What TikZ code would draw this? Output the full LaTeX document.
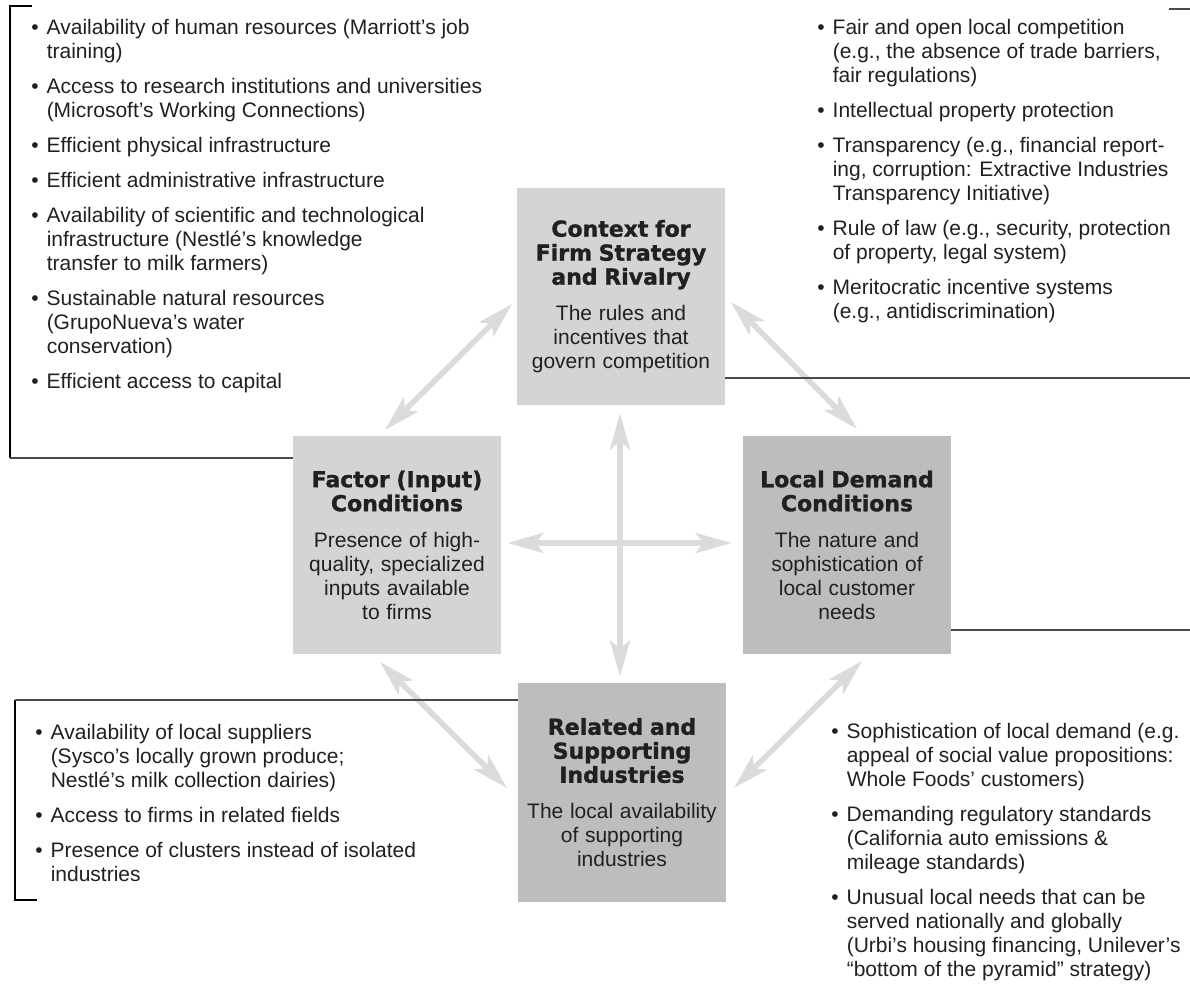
\documentclass[tikz,border=0pt]{standalone}
\usepackage{fontspec}
\setmainfont{Liberation Sans}
\newfontfamily\heavyfont{DejaVu Sans}[BoldFeatures={FakeBold=1.3}]
\usetikzlibrary{arrows.meta}
\definecolor{ink}{HTML}{231F20}
\definecolor{boxlight}{HTML}{D3D4D6}
\definecolor{boxdark}{HTML}{BCBDBF}
\definecolor{arrowgray}{HTML}{DADBDD}
\definecolor{rulegray}{HTML}{4A4A4A}
\newcommand\boxtitle{\heavyfont\bfseries\fontsize{11}{12}\selectfont}
\newcommand\boxbody{\rmfamily\mdseries\fontsize{10.5}{12}\selectfont}
\newcommand\bul{\textbullet}

\begin{document}
\begin{tikzpicture}[x=0.5pt,y=-0.5pt,
	box/.style={minimum width=104pt,minimum height=109pt,text width=100pt,align=center,text=ink,inner sep=0pt},
	list/.style={anchor=base west,inner sep=0pt,text=ink,font=\fontsize{10.5}{12}\selectfont},
	link/.style={draw=arrowgray,line width=2.8pt,{Stealth[length=18pt,width=10pt,inset=4pt]}-{Stealth[length=18pt,width=10pt,inset=4pt]}},
	bracket/.style={line width=1.4pt,black},
	rule/.style={line width=1pt,rulegray}]
		\useasboundingbox (0,0) rectangle (1190,989);
		\node [box,fill=boxlight,minimum height=108.5pt] (context) at (621,296.5) {\boxtitle Context for\\Firm Strategy\\and Rivalry\\[6pt]\boxbody The rules and\\incentives that\\govern competition};
		\node [box,fill=boxlight] (factor) at (397,545) {\boxtitle Factor (Input)\\Conditions\\[6pt]\boxbody Presence of high-\\quality, specialized\\inputs available\\to firms};
		\node [box,fill=boxdark] (demand) at (847,545) {\boxtitle Local Demand\\Conditions\\[6pt]\boxbody The nature and\\sophistication of\\local customer\\needs};
		\node [box,fill=boxdark,minimum height=109.5pt] (related) at (622,792.5) {\boxtitle Related and\\Supporting\\Industries\\[6pt]\boxbody The local availability\\of supporting\\industries};
		\coordinate (fcA) at (385,430);
		\coordinate (fcB) at (512,304);
		\coordinate (cdA) at (731,302);
		\coordinate (cdB) at (857,429);
		\coordinate (frA) at (380,662);
		\coordinate (frB) at (507,788);
		\coordinate (drA) at (862,661);
		\coordinate (drB) at (734,788);
		\draw [link] (fcA) -- (fcB);
		\draw [link] (cdA) -- (cdB);
		\draw [link] (frA) -- (frB);
		\draw [link] (drA) -- (drB);
		\draw [link,shorten <=3pt,shorten >=5.5pt] ([yshift=1pt]factor.east) -- ([yshift=1pt]demand.west);
		\draw [link,shorten <=4pt,shorten >=3pt] ([xshift=-0.5pt]context.south) -- ([xshift=-0.5pt]context.south |- related.north);
		\draw [bracket] (32,6) -- (10,6) -- (10,458);
		\draw [rule] (10,458) -- (factor.west |- 0,458);
		\draw [rule] (1169,9) -- (1190,9);
		\draw [rule] (context.east |- 0,378) -- (1190,378);
		\draw [rule] (demand.east |- 0,630) -- (1190,630);
		\draw [bracket] (37,900) -- (15,900) -- (15,700);
		\draw [rule] (15,700) -- (related.west |- 0,700);
		\node [list] (factorlist) at (31,35) {\begin{tabular}[t]{@{}l@{\hspace{4pt}}l@{}}
			\bul & Availability of human resources (Marriott’s job\\
			& training)\\[5.5pt]
			\bul & Access to research institutions and universities\\
			& (Microsoft’s Working Connections)\\[5.5pt]
			\bul & Efficient physical infrastructure\\[5.5pt]
			\bul & Efficient administrative infrastructure\\[5.5pt]
			\bul & Availability of scientific and technological\\
			& infrastructure (Nestlé’s knowledge\\
			& transfer to milk farmers)\\[5.5pt]
			\bul & Sustainable natural resources\\
			& (GrupoNueva’s water\\
			& conservation)\\[5.5pt]
			\bul & Efficient access to capital
		\end{tabular}};
		\node [list] (contextlist) at (817,35) {\begin{tabular}[t]{@{}l@{\hspace{4pt}}l@{}}
			\bul & Fair and open local competition\\
			& (e.g., the absence of trade barriers,\\
			& fair regulations)\\[5.5pt]
			\bul & Intellectual property protection\\[5.5pt]
			\bul & Transparency (e.g., financial report-\\
			& ing, corruption: Extractive Industries\\
			& Transparency Initiative)\\[5.5pt]
			\bul & Rule of law (e.g., security, protection\\
			& of property, legal system)\\[5.5pt]
			\bul & Meritocratic incentive systems\\
			& (e.g., antidiscrimination)
		\end{tabular}};
		\node [list] (relatedlist) at (35,740) {\begin{tabular}[t]{@{}l@{\hspace{4pt}}l@{}}
			\bul & Availability of local suppliers\\
			& (Sysco’s locally grown produce;\\
			& Nestlé’s milk collection dairies)\\[5.5pt]
			\bul & Access to firms in related fields\\[5.5pt]
			\bul & Presence of clusters instead of isolated\\
			& industries
		\end{tabular}};
		\node [list] (demandlist) at (831,739) {\begin{tabular}[t]{@{}l@{\hspace{4pt}}l@{}}
			\bul & Sophistication of local demand (e.g.\\
			& appeal of social value propositions:\\
			& Whole Foods’ customers)\\[5.5pt]
			\bul & Demanding regulatory standards\\
			& (California auto emissions \&\\
			& mileage standards)\\[5.5pt]
			\bul & Unusual local needs that can be\\
			& served nationally and globally\\
			& (Urbi’s housing financing, Unilever’s\\
			& “bottom of the pyramid” strategy)
		\end{tabular}};
	\end{tikzpicture}
\end{document}
